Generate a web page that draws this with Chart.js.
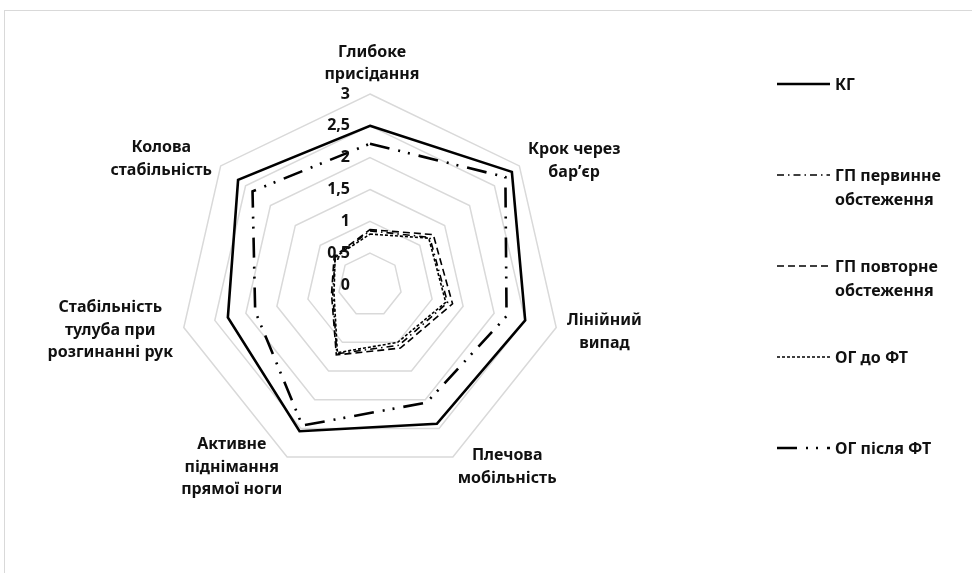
<!DOCTYPE html>
<html>
<head>
<meta charset="utf-8">
<script src="https://cdn.jsdelivr.net/npm/chart.js@4.4.1/dist/chart.umd.min.js"></script>
<style>
  html, body { margin: 0; padding: 0; background: #fff; }
  #wrap { position: relative; width: 972px; height: 573px; overflow: hidden; }
  #frame { position: absolute; left: 4px; top: 10px; width: 1000px; height: 600px; border: 1px solid #d9d9d9; box-sizing: border-box; }
  canvas { position: absolute; left: 0; top: 0; }
</style>
</head>
<body>
<div id="wrap">
  <div id="frame"></div>
  <canvas id="chart" width="972" height="573"></canvas>
</div>
<script>
const categories = [
  ['Глибоке', 'присідання'],
  ['Крок через', 'бар’єр'],
  ['Лінійний', 'випад'],
  ['Плечова', 'мобільність'],
  ['Активне', 'піднімання', 'прямої ноги'],
  ['Стабільність', 'тулуба при', 'розгинанні рук'],
  ['Колова', 'стабільність'],
];
const seriesNames = [
  ['КГ'],
  ['ГП первинне', 'обстеження'],
  ['ГП повторне', 'обстеження'],
  ['ОГ до ФТ'],
  ['ОГ після ФТ'],
];
const kg        = [2.5, 2.85, 2.5, 2.42, 2.55, 2.29, 2.65];
const gpFirst   = [0.85, 1.2, 1.25, 1.05, 1.2, 0.6, 0.7];
const gpRepeat  = [0.87, 1.27, 1.33, 1.1, 1.22, 0.62, 0.72];
const ogBefore  = [0.8, 1.18, 1.22, 1.0, 1.18, 0.58, 0.7];
const ogAfter   = [2.22, 2.72, 2.2, 2.05, 2.45, 1.85, 2.36];
const tickValues = [0, 0.5, 1, 1.5, 2, 2.5, 3];

const FONT = '"Noto Sans", "Open Sans", sans-serif';
const TEXT = '#111';

const styles = [
  { width: 2.6, dash: [] },
  { width: 1.6, dash: [7, 4, 1.5, 4] },
  { width: 1.6, dash: [7, 4] },
  { width: 1.6, dash: [3, 2] },
  { width: 2.6, dash: [20, 9, 2, 8, 2, 9] },
];
const seriesData = [kg, gpFirst, gpRepeat, ogBefore, ogAfter];

function fmt(v) {
  return String(v).replace('.', ',');
}

// tick labels, point labels and legend drawn Excel-style
const excelText = {
  id: 'excelText',
  afterDraw(chart) {
    const ctx = chart.ctx;
    const r = chart.scales.r;
    ctx.save();
    ctx.fillStyle = TEXT;
    ctx.font = 'bold 16px ' + FONT;

    // tick labels left of the top axis
    ctx.textAlign = 'right';
    ctx.textBaseline = 'middle';
    tickValues.forEach(v => {
      const d = r.getDistanceFromCenterForValue(v);
      ctx.fillText(fmt(v), r.xCenter - 20, r.yCenter - d);
    });

    // category labels
    const n = chart.data.labels.length;
    const lineH = 22.5;
    chart.data.labels.forEach((lines, i) => {
      const deg = i * 360 / n;
      const p = r.getPointPosition(i, r.drawingArea + 11);
      const w = Math.max(...lines.map(s => ctx.measureText(s).width));
      const h = lines.length * lineH;
      let cx, top;
      if (deg === 0) {
        cx = p.x + 2;
        top = p.y - h + 3;
      } else {
        cx = deg < 180 ? p.x + w / 2 : p.x - w / 2;
        top = p.y - h / 2 + (deg < 120 ? 2 : 0);
      }
      ctx.textAlign = 'center';
      lines.forEach((s, k) => ctx.fillText(s, cx, top + lineH * (k + 0.5)));
    });

    // legend
    const x0 = 777, x1 = 830;
    chart.data.datasets.forEach((ds, i) => {
      const y = 84 + i * 91;
      ctx.save();
      ctx.strokeStyle = '#000';
      ctx.lineWidth = ds.borderWidth;
      ctx.setLineDash(ds.borderDash);
      ctx.beginPath();
      ctx.moveTo(x0, y);
      ctx.lineTo(x1, y);
      ctx.stroke();
      ctx.restore();
      ctx.textAlign = 'left';
      seriesNames[i].forEach((s, k) => ctx.fillText(s, x1 + 5, y + 1 + k * 24));
    });
    ctx.restore();
  },
};

new Chart(document.getElementById('chart'), {
  type: 'radar',
  data: {
    labels: categories,
    datasets: seriesData.map((vals, i) => ({
      label: seriesNames[i].join(' '),
      data: vals,
      borderColor: '#000',
      backgroundColor: '#000',
      borderWidth: styles[i].width,
      borderDash: styles[i].dash,
      pointRadius: 0,
      fill: false,
      tension: 0,
    })),
  },
  options: {
    responsive: false,
    animation: false,
    layout: {
      padding: { left: 179, top: 94, right: 411, bottom: 97 },
    },
    plugins: {
      legend: { display: false },
      tooltip: { enabled: false },
    },
    scales: {
      r: {
        min: 0,
        max: 3,
        ticks: { stepSize: 0.5, display: false },
        pointLabels: { display: false },
        angleLines: { display: false },
        grid: { color: '#d9d9d9', lineWidth: 1.5 },
      },
    },
  },
  plugins: [excelText],
});
</script>
</body>
</html>
